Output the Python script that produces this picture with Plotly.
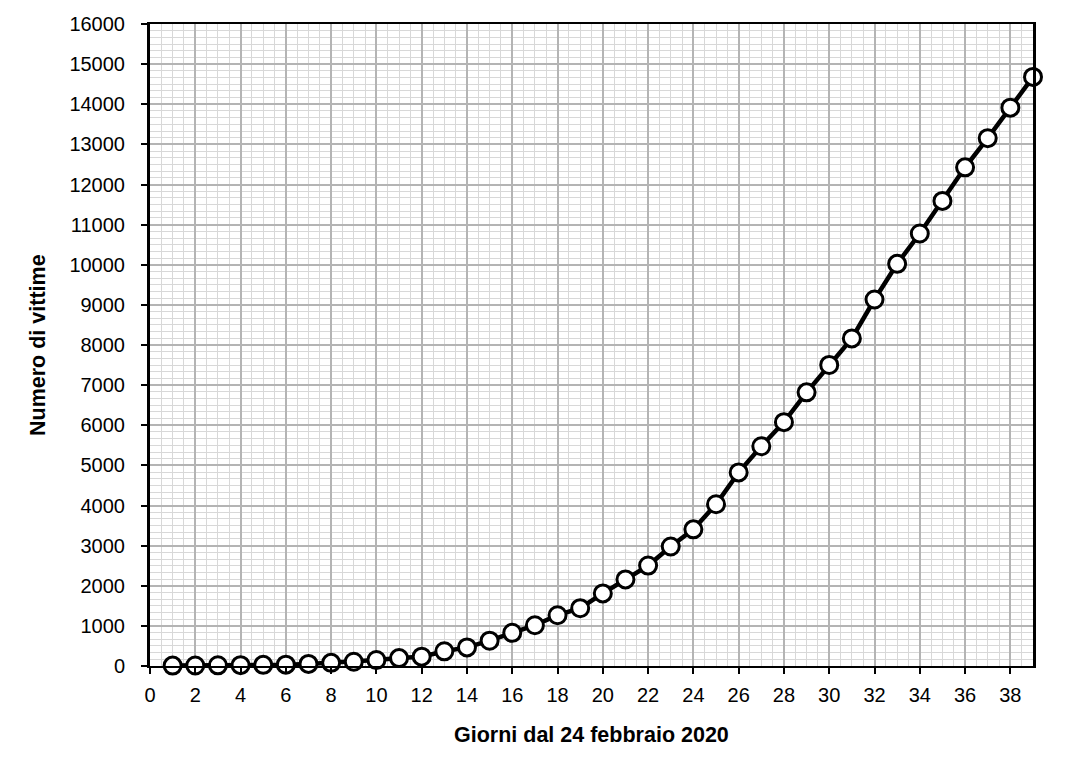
import plotly.graph_objects as go

days = list(range(1, 40))
deaths = [10, 12, 17, 21, 29, 34, 52, 79, 107, 148, 197, 233, 366, 463, 631, 827,
          1016, 1266, 1441, 1809, 2158, 2503, 2978, 3405, 4032, 4825, 5476, 6077,
          6820, 7503, 8165, 9134, 10023, 10779, 11591, 12428, 13155, 13915, 14681]
x_ticks = list(range(0, 39, 2))
y_ticks = list(range(0, 16001, 1000))

font_family = "Liberation Sans, Arial, sans-serif"

fig = go.Figure()
fig.add_trace(go.Scatter(
    x=days, y=deaths, mode="lines+markers",
    line=dict(color="black", width=4.5),
    marker=dict(symbol="circle", size=17, color="white",
                line=dict(color="black", width=3)),
    cliponaxis=False, showlegend=False,
))

fig.update_layout(
    width=1080, height=778,
    margin=dict(l=142, r=55, t=16, b=120, autoexpand=False),
    paper_bgcolor="white", plot_bgcolor="white",
    font=dict(family=font_family, size=20, color="black"),
    annotations=[
        dict(text="<b>Giorni dal 24 febbraio 2020</b>", xref="paper", yref="paper",
             x=0.5, y=0, xanchor="center", yanchor="middle", yshift=-69,
             showarrow=False, font=dict(family=font_family, size=21.5)),
        dict(text="<b>Numero di vittime</b>", xref="paper", yref="paper",
             x=0, y=0.5, xanchor="center", yanchor="middle", xshift=-112,
             textangle=-90, showarrow=False, font=dict(family=font_family, size=21.5)),
    ],
)
fig.update_xaxes(
    range=[0, 39], tickmode="array", tickvals=x_ticks,
    ticktext=[str(v) for v in x_ticks],
    showgrid=True, gridcolor="#b4b4b4", gridwidth=1.5,
    minor=dict(dtick=0.5, tick0=0, showgrid=True, gridcolor="#d8d8d8", gridwidth=1,
               ticks=""),
    showline=True, linecolor="black", linewidth=2, mirror=True,
    ticks="outside", ticklen=6, tickwidth=2, tickcolor="black",
    zeroline=False, ticklabelstandoff=4, automargin=False,
    tickfont=dict(size=20),
)
fig.update_yaxes(
    range=[0, 16000], tickmode="array", tickvals=y_ticks,
    ticktext=[str(v) for v in y_ticks],
    showgrid=True, gridcolor="#b4b4b4", gridwidth=1.5,
    minor=dict(dtick=1000/6, tick0=0, showgrid=True, gridcolor="#d8d8d8", gridwidth=1,
               ticks=""),
    showline=True, linecolor="black", linewidth=3, mirror=True,
    ticks="outside", ticklen=6, tickwidth=2, tickcolor="black",
    zeroline=False, ticklabelstandoff=12, automargin=False,
    tickfont=dict(size=20),
)

fig.write_html("out.html")
